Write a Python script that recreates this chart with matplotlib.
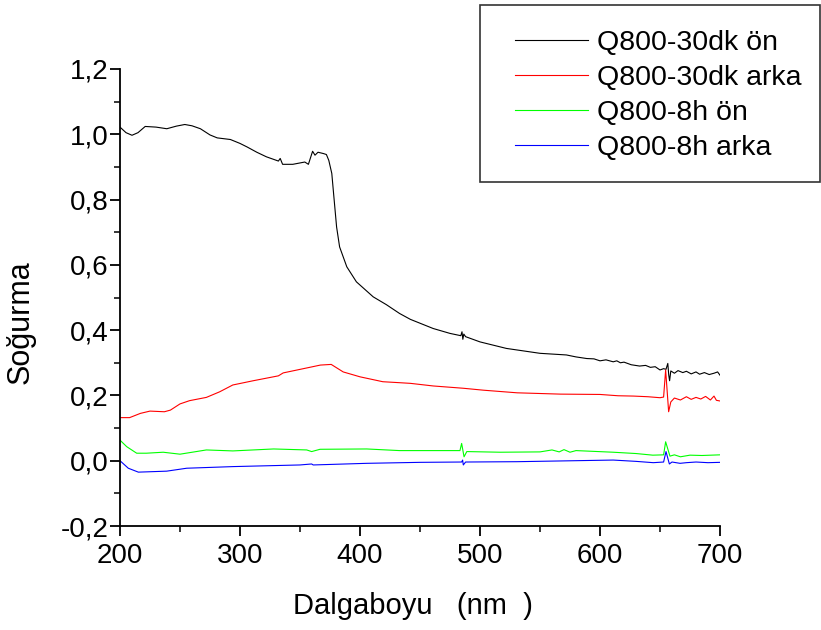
import numpy as np
import matplotlib
matplotlib.use('Agg')
import matplotlib.pyplot as plt
from matplotlib.patches import Rectangle
from matplotlib.ticker import MultipleLocator, FuncFormatter

plt.rcParams['font.family'] = ['Liberation Sans', 'DejaVu Sans']

# Q800-30dk ön (siyah)
x_30dk_on = [200, 205, 210, 215, 221, 230, 239, 247, 254, 260, 267, 275, 281, 292, 300,
             306, 314, 322, 332, 333.5, 335.5, 344, 354, 357, 360.5, 362.5, 365, 369.5,
             372, 374, 376.5, 378, 380.5, 383, 389, 397, 411, 422, 433, 442, 461, 475,
             484, 485, 485.7, 486.5, 488, 500, 522, 550, 572, 580, 589, 595, 600, 605,
             611, 614, 617, 620, 626, 633, 638, 642, 646, 650, 653, 655, 656.5, 657.3,
             658, 659, 662, 665, 669, 672, 676, 680, 683, 687, 691, 695, 698, 700]
y_30dk_on = [1.022, 1.005, 0.997, 1.005, 1.024, 1.022, 1.017, 1.025, 1.030, 1.026, 1.017,
             0.998, 0.989, 0.984, 0.972, 0.961, 0.945, 0.931, 0.918, 0.926, 0.908, 0.908,
             0.915, 0.908, 0.948, 0.936, 0.945, 0.941, 0.938, 0.920, 0.880, 0.818, 0.716,
             0.655, 0.594, 0.548, 0.502, 0.478, 0.451, 0.433, 0.405, 0.390, 0.383, 0.395,
             0.372, 0.388, 0.380, 0.364, 0.344, 0.329, 0.324, 0.318, 0.313, 0.312, 0.306,
             0.309, 0.303, 0.306, 0.300, 0.302, 0.294, 0.290, 0.292, 0.286, 0.288, 0.278,
             0.282, 0.280, 0.298, 0.262, 0.245, 0.275, 0.268, 0.276, 0.270, 0.274, 0.266,
             0.272, 0.265, 0.270, 0.264, 0.268, 0.272, 0.262]

# Q800-30dk arka (kırmızı)
x_30dk_arka = [200, 208, 217, 225, 237, 242, 250, 258, 272, 283, 294, 311, 332, 336, 358,
               367, 376, 386, 400, 419, 433, 442, 461, 486, 503, 531, 567, 600, 615, 628,
               640, 650, 653, 654.7, 657.2, 659, 662, 667, 672, 676, 680, 684, 688, 692,
               695, 697, 700]
y_30dk_arka = [0.132, 0.132, 0.145, 0.152, 0.150, 0.155, 0.174, 0.184, 0.194, 0.211, 0.232,
               0.245, 0.260, 0.269, 0.286, 0.293, 0.295, 0.272, 0.257, 0.242, 0.239, 0.237,
               0.229, 0.222, 0.216, 0.208, 0.204, 0.203, 0.199, 0.198, 0.196, 0.193, 0.195,
               0.278, 0.150, 0.180, 0.192, 0.186, 0.196, 0.188, 0.194, 0.189, 0.197, 0.186,
               0.198, 0.185, 0.183]

# Q800-8h ön (yeşil)
x_8h_on = [200, 205.6, 213.9, 222, 236, 250, 272, 294, 328, 355.6, 359.7, 366.7, 405.6,
           433, 450, 483.3, 484.7, 486.7, 489, 517, 550, 560, 566, 570, 575, 580, 611,
           630, 644, 653, 654.7, 658.3, 662, 667, 675, 685, 700]
y_8h_on = [0.063, 0.043, 0.023, 0.023, 0.026, 0.020, 0.033, 0.030, 0.036, 0.033, 0.028,
           0.035, 0.036, 0.031, 0.031, 0.031, 0.053, 0.012, 0.028, 0.026, 0.027, 0.033,
           0.027, 0.034, 0.026, 0.031, 0.026, 0.022, 0.017, 0.018, 0.058, 0.014, 0.018,
           0.012, 0.017, 0.016, 0.018]

# Q800-8h arka (mavi)
x_8h_arka = [200, 206.9, 215.3, 238.9, 255.6, 294.4, 350, 359.7, 361, 405.6, 450, 484.7,
             485.5, 486.1, 488, 530.6, 611, 630, 644.4, 653, 655, 657.8, 660, 666.7, 672,
             680, 690, 700]
y_8h_arka = [0.000, -0.023, -0.035, -0.032, -0.023, -0.018, -0.013, -0.010, -0.013, -0.008,
             -0.005, -0.004, 0.002, -0.013, -0.004, -0.003, 0.002, -0.002, -0.006, -0.004,
             0.028, -0.010, -0.004, -0.008, -0.006, -0.004, -0.006, -0.005]

series = [
    (x_30dk_on, y_30dk_on, '#000000', 'Q800-30dk ön'),
    (x_30dk_arka, y_30dk_arka, '#ff0000', 'Q800-30dk arka'),
    (x_8h_on, y_8h_on, '#00ff00', 'Q800-8h ön'),
    (x_8h_arka, y_8h_arka, '#0000ff', 'Q800-8h arka'),
]

W, H = 821, 630
fig = plt.figure(figsize=(W / 100, H / 100), dpi=100)
ax = fig.add_axes([120 / W, 1 - 526 / H, 600 / W, (526 - 69) / H])

for x, y, c, lab in series:
    ax.plot(x, y, color=c, lw=0.8, label=lab)

ax.set_xlim(200, 700)
ax.set_ylim(-0.2, 1.2)
ax.xaxis.set_major_locator(MultipleLocator(100))
ax.xaxis.set_minor_locator(MultipleLocator(50))
ax.yaxis.set_major_locator(MultipleLocator(0.2))
ax.yaxis.set_minor_locator(MultipleLocator(0.1))
ax.yaxis.set_major_formatter(FuncFormatter(lambda v, p: f'{v:.1f}'.replace('.', ',')))

for s in ['top', 'right']:
    ax.spines[s].set_visible(False)
for s in ['left', 'bottom']:
    ax.spines[s].set_linewidth(1.3)

ax.tick_params(which='major', direction='out', length=7, width=1.3, labelsize=20)
ax.tick_params(which='minor', direction='out', length=4.5, width=1.1)
ax.tick_params(axis='y', which='major', pad=1)
ax.tick_params(axis='x', which='major', pad=5)

ax.set_ylabel('Soğurma', fontsize=22)
ax.yaxis.set_label_coords(-0.14, 0.446)
ax.set_xlabel('Dalgaboyu   (nm  )', fontsize=21)
ax.xaxis.set_label_coords(0.488, -0.144)

# lejant kutusu (eksenin dışına taşıyor)
fig.patches.append(Rectangle((480 / W, 1 - 182 / H), 340 / W, 177 / H,
                             transform=fig.transFigure, fill=False,
                             edgecolor='#333333', lw=1.2))
fig.legend(loc='upper left', bbox_to_anchor=(515 / W, 1 - 30 / H), frameon=False,
           fontsize=20.5, handlelength=2.55, handletextpad=0.32, labelspacing=0.32,
           borderaxespad=0, borderpad=0)

fig.savefig('out.png', dpi=100)
